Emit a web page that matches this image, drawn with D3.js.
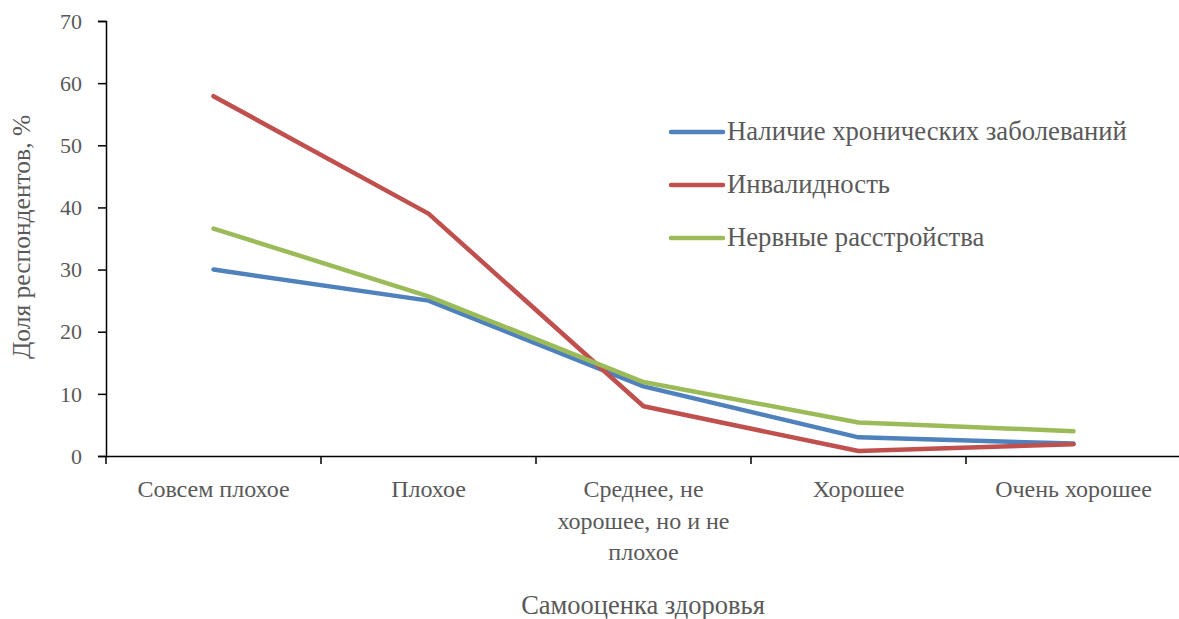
<!DOCTYPE html>
<html><head><meta charset="utf-8">
<script src="https://cdn.jsdelivr.net/npm/d3@7"></script>
<style>body{margin:0;background:#fff}svg{display:block}
svg text{font-family:"Liberation Serif","Times New Roman",serif;fill:#595959}
</style>
</head><body>
<svg id="c" width="1179" height="619"></svg>
<script>
const categories = ["Совсем плохое", "Плохое", "Среднее, не хорошее, но и не плохое", "Хорошее", "Очень хорошее"];
const seriesNames = ["Наличие хронических заболеваний", "Инвалидность", "Нервные расстройства"];
const chronic = [30, 25, 11.2, 3, 2];
const disability = [57.9, 39, 8, 0.8, 1.9];
const nervous = [36.6, 25.7, 11.9, 5.4, 4];
const yTicks = [0, 10, 20, 30, 40, 50, 60, 70];
const colors = ["#4F81BD", "#C0504D", "#9BBB59"];

const svg = d3.select("#c");
const x0 = 106, x1 = 1181, yTop = 21, yBot = 456;
const x = d3.scaleBand().domain(categories).range([x0, x1]);
const y = d3.scaleLinear().domain([0, 70]).range([yBot, yTop]);

// Y axis
const ya = svg.append("g").attr("transform", `translate(${x0},0)`)
  .call(d3.axisLeft(y).tickValues(yTicks).tickSize(8).tickPadding(16));
ya.select(".domain").attr("stroke", "#000").attr("stroke-width", 1.5);
ya.selectAll(".tick line").attr("stroke", "#000").attr("stroke-width", 1.5);
ya.selectAll("text").attr("font-size", 22).attr("dy", "0.33em");

// X axis
const xa = svg.append("g").attr("transform", `translate(0,${yBot})`)
  .call(d3.axisBottom(x).tickSize(0).tickFormat(""));
xa.select(".domain").attr("stroke", "#000").attr("stroke-width", 1.5);
const tickPos = categories.map(c => x(c)).concat([x1]);
svg.append("g").selectAll("line").data(tickPos).join("line")
  .attr("x1", d => d).attr("x2", d => d).attr("y1", yBot).attr("y2", yBot + 8)
  .attr("stroke", "#000").attr("stroke-width", 1.5);

// X labels with wrapping
const wrapped = {
  "Среднее, не хорошее, но и не плохое": ["Среднее, не", "хорошее, но и не", "плохое"]
};
categories.forEach(c => {
  const lines = wrapped[c] || [c];
  const t = svg.append("text").attr("text-anchor", "middle").attr("font-size", 24);
  lines.forEach((l, i) => {
    t.append("tspan").attr("x", x(c) + x.bandwidth() / 2).attr("y", 497 + i * 31.5).text(l);
  });
});

// Lines
const data = [chronic, disability, nervous];
const line = d3.line().x((d, i) => x(categories[i]) + x.bandwidth() / 2).y(d => y(d));
data.forEach((s, k) => {
  svg.append("path").attr("d", line(s)).attr("fill", "none")
    .attr("stroke", colors[k]).attr("stroke-width", 4.5)
    .attr("stroke-linecap", "round").attr("stroke-linejoin", "round");
});

// Legend
seriesNames.forEach((n, i) => {
  const ly = 132 + i * 53;
  svg.append("line").attr("x1", 671).attr("x2", 723).attr("y1", ly).attr("y2", ly)
    .attr("stroke", colors[i]).attr("stroke-width", 4.5).attr("stroke-linecap", "round");
  svg.append("text").attr("x", 727).attr("y", ly + 8).attr("font-size", 26.7).text(n);
});

// Axis titles
svg.append("text").attr("x", 643).attr("y", 614).attr("text-anchor", "middle")
  .attr("font-size", 26.5).text("Самооценка здоровья");
svg.append("text").attr("transform", "translate(30,237) rotate(-90)").attr("text-anchor", "middle")
  .attr("font-size", 25.5).text("Доля респондентов, %");
</script>
</body></html>
